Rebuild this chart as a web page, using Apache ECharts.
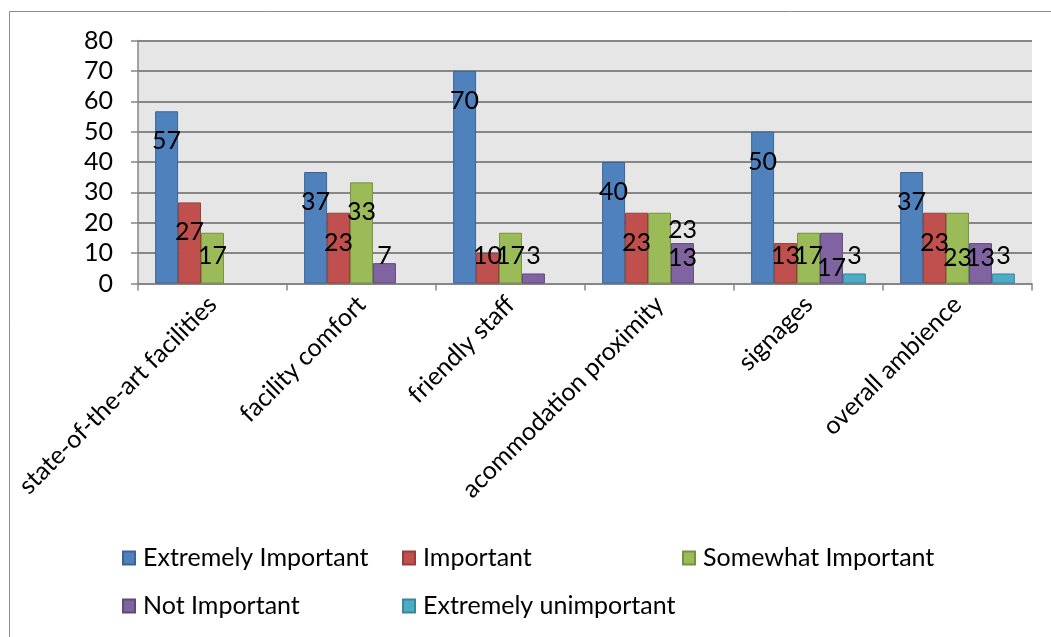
<!DOCTYPE html>
<html>
<head>
<meta charset="utf-8">
<script src="https://cdn.jsdelivr.net/npm/echarts@6/dist/echarts.min.js"></script>
<style>
html,body{margin:0;padding:0;background:#fff;}
#chart{width:1051px;height:637px;}
</style>
</head>
<body>
<div id="chart"></div>
<script>
const categories = ["state-of-the-art facilities", "facility comfort", "friendly staff", "acommodation proximity", "signages", "overall ambience"];
const seriesNames = ["Extremely Important", "Important", "Somewhat Important", "Not Important", "Extremely unimportant"];
const extremelyImportant = [56.7, 36.7, 70.0, 40.0, 50.0, 36.7];
const important = [26.7, 23.3, 10.0, 23.3, 13.3, 23.3];
const somewhatImportant = [16.7, 33.3, 16.7, 23.3, 16.7, 23.3];
const notImportant = [null, 6.7, 3.3, 13.3, 16.7, 13.3];
const extremelyUnimportant = [null, null, null, null, 3.3, 3.3];
const yTicks = [0, 10, 20, 30, 40, 50, 60, 70, 80];

const seriesValues = [extremelyImportant, important, somewhatImportant, notImportant, extremelyUnimportant];
const colors = ["#4F81BD", "#C0504D", "#9BBB59", "#8064A2", "#4BACC6"];
const borders = ["#3A6496", "#93403D", "#77913F", "#5F4A7A", "#3A8599"];
const FONT = "Lato";
const FS = 25;
// manual label nudges seen in the reference (series index, category index) -> [dx, dy]
const labelTweaks = {"2,3": [23, -13], "3,4": [0, 12], "2,5": [0, 15], "3,3": [0, 2], "3,5": [0, 2]};

const series = seriesValues.map((vals, si) => ({
  name: seriesNames[si],
  type: "bar",
  barGap: "0%",
  barCategoryGap: "23%",
  itemStyle: {color: colors[si], borderColor: borders[si], borderWidth: 1},
  data: vals.map((v, ci) => {
    if (v === null) return "-";
    const tall = v >= 20;
    const tw = labelTweaks[si + "," + ci] || [0, 0];
    return {
      value: v,
      label: {
        show: true,
        position: tall ? "insideTop" : "insideBottom",
        distance: tall ? 17 : 15,
        offset: tw,
        formatter: p => String(Math.round(p.value)),
        color: "#000",
        fontFamily: FONT,
        fontSize: FS,
        lineHeight: 26
      }
    };
  })
}));

const chart = echarts.init(document.getElementById("chart"), null, {renderer: "canvas"});
chart.setOption({
  animation: false,
  backgroundColor: "#fff",
  textStyle: {fontFamily: FONT},
  graphic: [{
    type: "rect", silent: true, z: 0,
    shape: {x: 9.5, y: 11.5, width: 1200, height: 800},
    style: {fill: "none", stroke: "#8C8C8C", lineWidth: 1}
  }],
  grid: {left: 138, right: 19, top: 40.5, bottom: 353.5, show: true, backgroundColor: "#E6E6E6", borderWidth: 0},
  legend: {
    data: seriesNames,
    left: 122, top: 539,
    width: 860,
    padding: 0,
    orient: "horizontal",
    itemWidth: 12, itemHeight: 13,
    itemGap: 10,
    icon: "rect",
    textStyle: {fontFamily: FONT, fontSize: FS, color: "#000", width: 249, lineHeight: 38, padding: [0,0,0,3]}
  },
  xAxis: {
    type: "category",
    data: categories,
    axisLine: {lineStyle: {color: "#868686", width: 1.5}},
    axisTick: {show: true, length: 7, lineStyle: {color: "#868686", width: 1.5}},
    axisLabel: {rotate: 45, margin: 17, fontFamily: FONT, fontSize: FS, color: "#000", interval: 0}
  },
  yAxis: {
    type: "value",
    min: yTicks[0], max: yTicks[yTicks.length - 1], interval: 10,
    axisLine: {show: true, lineStyle: {color: "#868686", width: 1.5}},
    axisTick: {show: true, length: 7, lineStyle: {color: "#868686", width: 1.5}},
    axisLabel: {margin: 25, fontFamily: FONT, fontSize: FS, color: "#000"},
    splitLine: {lineStyle: {color: "#868686", width: 2}}
  },
  series: series
});
</script>
</body>
</html>
